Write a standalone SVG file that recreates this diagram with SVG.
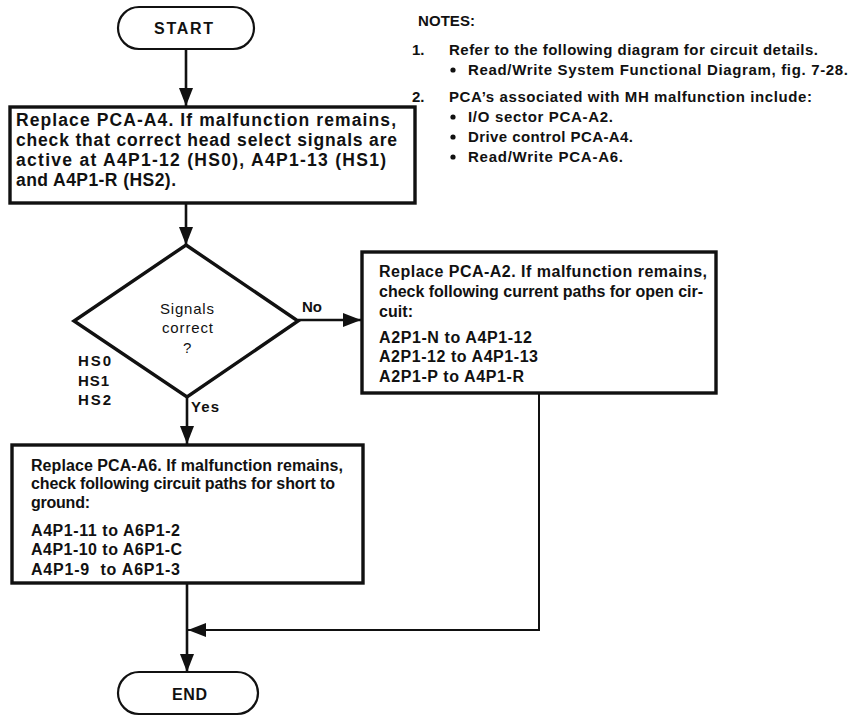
<svg xmlns="http://www.w3.org/2000/svg" width="852" height="723" viewBox="0 0 852 723">
  <style>
    .box { fill: #fff; stroke: #111; stroke-width: 3.4; }
    .term { fill: #fff; stroke: #111; stroke-width: 2.2; }
    .line { fill: none; stroke: #111; stroke-width: 2.6; }
    .thin { fill: none; stroke: #111; stroke-width: 2; }
    text { font-family: "Liberation Sans", Arial, sans-serif; fill: #111; }
    .b17 { font-size: 17.5px; font-weight: bold; }
    .b16 { font-size: 16px; font-weight: bold; }
    .n15 { font-size: 15px; font-weight: bold; }
    .r15 { font-size: 15px; }
    .lbl { font-size: 15px; font-weight: bold; }
  </style>
  <defs>
    <marker id="arrow" viewBox="0 0 18 14" refX="18" refY="7" markerWidth="18" markerHeight="14" markerUnits="userSpaceOnUse" orient="auto">
      <path d="M0,0 L18,7 L0,14 Z" fill="#111"/>
    </marker>
  </defs>

  <rect width="852" height="723" fill="#fff"/>

  <!-- connectors -->
  <g id="connectors">
    <line class="line" x1="186" y1="49" x2="186" y2="106" marker-end="url(#arrow)"/>
    <line class="line" x1="186" y1="204" x2="186" y2="245" marker-end="url(#arrow)"/>
    <line class="line" x1="298" y1="320" x2="361" y2="320" marker-end="url(#arrow)"/>
    <line class="line" x1="187" y1="397" x2="187" y2="444" marker-end="url(#arrow)"/>
    <line class="line" x1="187" y1="584" x2="187" y2="672" marker-end="url(#arrow)"/>
    <polyline class="thin" points="539,394 539,630 188,630" marker-end="url(#arrow)"/>
  </g>

  <!-- start terminal -->
  <g id="start">
    <rect class="term" x="118" y="7" width="136" height="42" rx="21" ry="21"/>
    <text class="b16" x="154" y="34" textLength="59" lengthAdjust="spacing">START</text>
  </g>

  <!-- replace drive control board -->
  <g id="replace-a4">
    <rect class="box" x="10" y="107" width="405" height="96"/>
    <text class="b17" x="16" y="126" textLength="380" lengthAdjust="spacing">Replace PCA-A4. If malfunction remains,</text>
    <text class="b17" x="16" y="146" textLength="381" lengthAdjust="spacing">check that correct head select signals are</text>
    <text class="b17" x="16" y="166" textLength="370" lengthAdjust="spacing">active at A4P1-12 (HS0), A4P1-13 (HS1)</text>
    <text class="b17" x="16" y="186" textLength="160" lengthAdjust="spacing">and A4P1-R (HS2).</text>
  </g>

  <!-- signal decision -->
  <g id="decision">
    <polygon class="box" points="186,245 298,321 187,397 74,321"/>
    <text class="r15" x="160" y="314" textLength="54" lengthAdjust="spacing">Signals</text>
    <text class="r15" x="162" y="333" textLength="51" lengthAdjust="spacing">correct</text>
    <text class="r15" x="183" y="353">?</text>
    <text class="lbl" x="78" y="366" textLength="33" lengthAdjust="spacing">HS0</text>
    <text class="lbl" x="78" y="386" textLength="31" lengthAdjust="spacing">HS1</text>
    <text class="lbl" x="78" y="405" textLength="33" lengthAdjust="spacing">HS2</text>
    <text class="lbl" x="302" y="312" textLength="20" lengthAdjust="spacing">No</text>
    <text class="lbl" x="191" y="412" textLength="28" lengthAdjust="spacing">Yes</text>
  </g>

  <!-- replace I/O sector board -->
  <g id="replace-a2">
    <rect class="box" x="362" y="252" width="354" height="141"/>
    <text class="b16" x="379" y="277" textLength="328" lengthAdjust="spacing">Replace PCA-A2. If malfunction remains,</text>
    <text class="b16" x="379" y="297" textLength="324" lengthAdjust="spacing">check following current paths for open cir-</text>
    <text class="b16" x="379" y="317" textLength="34" lengthAdjust="spacing">cuit:</text>
    <text class="b16" x="379" y="343" textLength="153" lengthAdjust="spacing">A2P1-N to A4P1-12</text>
    <text class="b16" x="379" y="362" textLength="159" lengthAdjust="spacing">A2P1-12 to A4P1-13</text>
    <text class="b16" x="379" y="382" textLength="145" lengthAdjust="spacing">A2P1-P to A4P1-R</text>
  </g>

  <!-- replace read/write board -->
  <g id="replace-a6">
    <rect class="box" x="12" y="445" width="351" height="138"/>
    <text class="b16" x="31" y="471" textLength="312" lengthAdjust="spacing">Replace PCA-A6. If malfunction remains,</text>
    <text class="b16" x="31" y="489" textLength="304" lengthAdjust="spacing">check following circuit paths for short to</text>
    <text class="b16" x="31" y="508" textLength="59" lengthAdjust="spacing">ground:</text>
    <text class="b16" x="31" y="536" textLength="149" lengthAdjust="spacing">A4P1-11 to A6P1-2</text>
    <text class="b16" x="31" y="555" textLength="151" lengthAdjust="spacing">A4P1-10 to A6P1-C</text>
    <text class="b16" x="31" y="575" textLength="149" lengthAdjust="spacing" xml:space="preserve">A4P1-9  to A6P1-3</text>
  </g>

  <!-- end terminal -->
  <g id="end">
    <rect class="term" x="118" y="672" width="140" height="42" rx="21" ry="21"/>
    <text class="b16" x="172" y="700" textLength="35" lengthAdjust="spacing">END</text>
  </g>

  <!-- notes -->
  <g id="notes">
    <text class="n15" x="418" y="26" textLength="57" lengthAdjust="spacing">NOTES:</text>
    <text class="n15" x="412" y="55">1.</text>
    <text class="n15" x="449" y="55" textLength="369" lengthAdjust="spacing">Refer to the following diagram for circuit details.</text>
    <circle cx="453" cy="70" r="2.6" fill="#111"/>
    <text class="n15" x="468" y="75" textLength="380" lengthAdjust="spacing">Read/Write System Functional Diagram, fig. 7-28.</text>
    <text class="n15" x="412" y="102">2.</text>
    <text class="n15" x="449" y="102" textLength="363" lengthAdjust="spacing">PCA’s associated with MH malfunction include:</text>
    <circle cx="453" cy="117" r="2.6" fill="#111"/>
    <text class="n15" x="468" y="122" textLength="145" lengthAdjust="spacing">I/O sector PCA-A2.</text>
    <circle cx="453" cy="137" r="2.6" fill="#111"/>
    <text class="n15" x="468" y="142" textLength="165" lengthAdjust="spacing">Drive control PCA-A4.</text>
    <circle cx="453" cy="157" r="2.6" fill="#111"/>
    <text class="n15" x="468" y="162" textLength="155" lengthAdjust="spacing">Read/Write PCA-A6.</text>
  </g>
</svg>
